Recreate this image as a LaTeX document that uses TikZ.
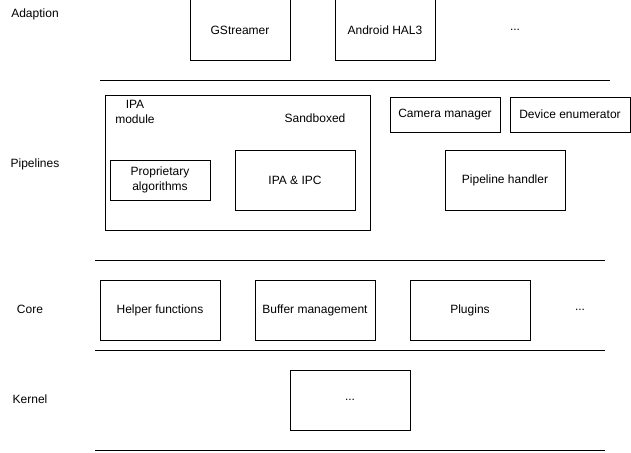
\documentclass[tikz,border=0pt]{standalone}
\usepackage{fontspec}
\setmainfont{Liberation Sans}
\usetikzlibrary{positioning}

\begin{document}
\begin{tikzpicture}[x=1pt,y=-1pt,line width=1pt,
    every node/.style={font=\fontsize{12}{15}\selectfont,align=center,inner sep=0pt,outer sep=0pt},
    box/.style={draw=black,minimum width=100pt,minimum height=60pt},
    widebox/.style={box,minimum width=120pt}]
      \useasboundingbox (0,0) rectangle (631,452);
      % layer names
      \node (adaption) at (35,14) {Adaption};
      \node (pipelines) at (35,164) {Pipelines};
      \node (core) at (30,309) {Core};
      \node (kernel) at (30,399) {Kernel};

      % adaption layer
      \node[box] (gst) at (240,30) {GStreamer};
      \node[box,right=45pt of gst] (hal) {Android HAL3};
      \node (adots) at (515,30) {...};

      % pipelines layer
      \node[draw=black,minimum width=265pt,minimum height=135pt] (ipa) at (237.5,162.5) {};
      \node[anchor=north] (ipalabel) at (135,100) {IPA\\module};
      \node (sandbox) at (315,118) {Sandboxed};
      \node[box,minimum height=40pt] (algos) at (160,180) {Proprietary\\algorithms};
      \node[widebox] (ipc) at (295,180) {IPA \& IPC};
      \node[draw=black,minimum width=110pt,minimum height=35pt] (cammgr) at (445,114.5) {Camera manager};
      \node[draw=black,minimum width=120pt,minimum height=35pt,right=10pt of cammgr] (devenum) {Device enumerator};
      \node[widebox] (handler) at (505,180) {Pipeline handler};

      % core layer
      \node[widebox] (helper) at (160,310) {Helper functions};
      \node[widebox,right=35pt of helper] (buffers) {Buffer management};
      \node[widebox,right=35pt of buffers] (plugins) {Plugins};
      \node (cdots) at (580,310) {...};

      % kernel layer
      \node[widebox] (kbox) at (350,400) {...};

      % separators
      \coordinate (s1a) at (100,80);  \coordinate (s1b) at (610,80);
      \coordinate (s2a) at (95,260);  \coordinate (s2b) at (605,260);
      \coordinate (s3a) at (95,350);  \coordinate (s3b) at (605,350);
      \coordinate (s4a) at (95,450);  \coordinate (s4b) at (605,450);
      \draw (s1a) -- (s1b);
      \draw (s2a) -- (s2b);
      \draw (s3a) -- (s3b);
      \draw (s4a) -- (s4b);
\end{tikzpicture}
\end{document}
